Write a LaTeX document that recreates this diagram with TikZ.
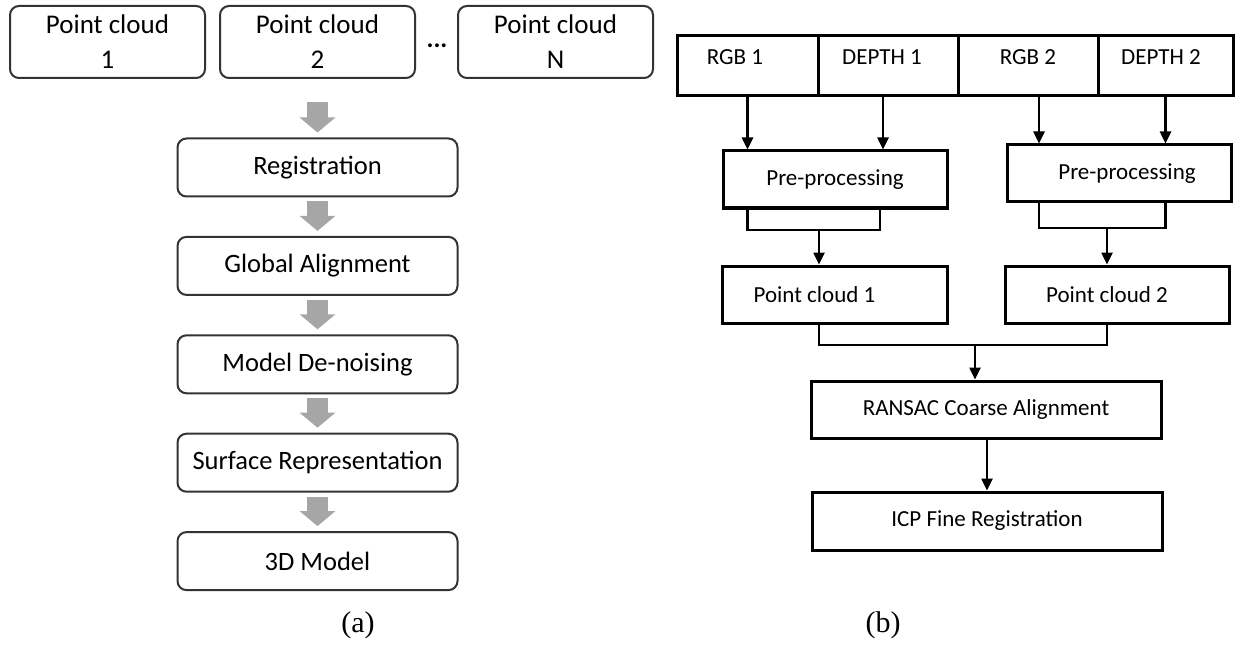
\documentclass[tikz,border=0pt]{standalone}
\usepackage{fontspec}
\setmainfont{Carlito}
\newfontfamily\capfont{Liberation Serif}
\usetikzlibrary{positioning, arrows.meta}

\begin{document}
\begin{tikzpicture}[x=1pt, y=-1pt, node distance=38.4pt]
    \tikzstyle{pcbox} = [rectangle, draw=black!80, line width=2pt, rounded corners=9pt, minimum width=195pt, minimum height=72pt, inner sep=0pt, align=center, font=\fontsize{27}{35}\selectfont]
    \tikzstyle{stagebox} = [rectangle, draw=black!80, line width=2pt, rounded corners=9pt, minimum width=280pt, minimum height=58pt, inner sep=0pt, font=\fontsize{26.5}{31}\selectfont]
    \tikzstyle{cell} = [rectangle, draw=black, line width=3pt, minimum height=60pt, inner sep=0pt, outer sep=0pt, text depth=18pt, font=\fontsize{23}{28}\selectfont]
    \tikzstyle{rbox} = [rectangle, draw=black, line width=3pt, minimum height=57pt, inner sep=0pt, font=\fontsize{23}{28}\selectfont]
    \tikzstyle{arrow} = [line width=2.5pt, -{Triangle[width=11pt,length=12pt]}]
    \tikzstyle{link} = [line width=2.5pt]
    \tikzstyle{fatarrow} = [draw=black!35, line width=21pt, -{Triangle[width=35pt,length=15pt]}]

    \useasboundingbox (0,0) rectangle (1235,650);

    % (a) pipeline
    \node [pcbox] (pc1) at (107.5,42) {Point cloud\\1};
    \node [pcbox] (pc2) at (317.5,42) {Point cloud\\2};
    \node [pcbox] (pcN) at (555.5,42) {Point cloud\\N};
    \node [font=\fontsize{26}{26}\selectfont\bfseries] (dots) at (437,46) {...};

    \node [stagebox, below=58.5pt of pc2] (reg) {Registration};
    \node [stagebox, below=of reg] (glob) {Global Alignment};
    \node [stagebox, below=of glob] (denoise) {Model De-noising};
    \node [stagebox, below=of denoise] (surf) {Surface Representation};
    \node [stagebox, below=of surf] (model) {3D Model};

    \draw [fatarrow] ([yshift=-23pt]pc2.south) -- ([yshift=5pt]reg.north);
    \draw [fatarrow] ([yshift=-4pt]reg.south) -- ([yshift=5pt]glob.north);
    \draw [fatarrow] ([yshift=-4pt]glob.south) -- ([yshift=5pt]denoise.north);
    \draw [fatarrow] ([yshift=-4pt]denoise.south) -- ([yshift=5pt]surf.north);
    \draw [fatarrow] ([yshift=-4pt]surf.south) -- ([yshift=5pt]model.north);

    \node [font=\capfont\fontsize{30}{30}\selectfont] (capA) at (358,625) {(a)};

    % (b) registration
    \node [cell, minimum width=141pt] (rgbA) at (747.5,66) {\hspace*{-25pt}RGB 1};
    \node [cell, minimum width=140pt, right=0pt of rgbA] (depA) {\hspace*{-12pt}DEPTH 1};
    \node [cell, minimum width=140pt, right=0pt of depA] (rgbB) {RGB 2};
    \node [cell, minimum width=135pt, right=0pt of rgbB] (depB) {\hspace*{-9pt}DEPTH 2};

    \node [rbox, minimum width=224pt] (preA) at (835,179.5) {Pre-processing};
    \node [rbox, minimum width=224pt] (preB) at (1119,173.5) {\hspace*{16pt}Pre-processing};
    \node [rbox, minimum width=225pt] (cloudA) at (834.5,294.5) {\hspace*{-40pt}Point cloud 1};
    \node [rbox, minimum width=224pt] (cloudB) at (1117,294.5) {\hspace*{-20pt}Point cloud 2};
    \node [rbox, minimum width=350pt] (ransac) at (986,409.5) {RANSAC Coarse Alignment};
    \node [rbox, minimum width=350pt, minimum height=58pt] (icp) at (987,521) {ICP Fine Registration};

    \coordinate (joinA) at (819,230);
    \coordinate (joinB) at (1107,228);
    \coordinate (joinC) at (975,345);

    \draw [arrow] (rgbA.south) -- (rgbA.south |- preA.north);
    \draw [arrow] ([xshift=-5pt]depA.south) -- ([xshift=-5pt]depA.south |- preA.north);
    \draw [arrow] ([xshift=11pt]rgbB.south) -- ([xshift=11pt]rgbB.south |- preB.north);
    \draw [arrow] (depB.south) -- (depB.south |- preB.north);

    \draw [link] (rgbA.south |- preA.south) |- (joinA) -| ([xshift=-8pt]depA.south |- preA.south);
    \draw [arrow] (joinA) -- (joinA |- cloudA.north);
    \draw [link] ([xshift=11pt]rgbB.south |- preB.south) |- (joinB) -| (depB.south |- preB.south);
    \draw [arrow] (joinB) -- (joinB |- cloudB.north);

    \draw [link] (joinA |- cloudA.south) |- (joinC) -| (joinB |- cloudB.south);
    \draw [arrow] (joinC) -- (joinC |- ransac.north);
    \draw [arrow] (icp.north |- ransac.south) -- (icp.north);

    \node [font=\capfont\fontsize{30}{30}\selectfont] (capB) at (883,625) {(b)};
\end{tikzpicture}
\end{document}
